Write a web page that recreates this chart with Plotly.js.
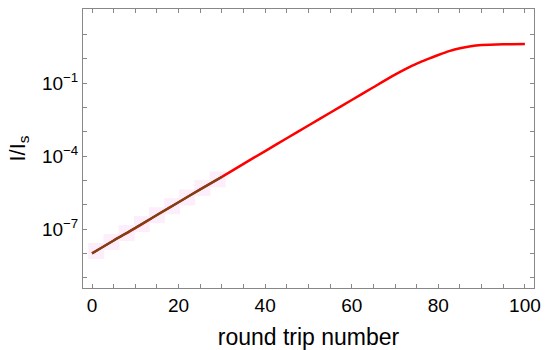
<!DOCTYPE html>
<html>
<head>
<meta charset="utf-8">
<script src="https://cdn.plot.ly/plotly-3.0.1.min.js"></script>
<style>
  html, body { margin: 0; padding: 0; background: #fff; }
  #chart { width: 550px; height: 350px; }
</style>
</head>
<body>
<div id="chart"></div>
<script>
// round trip number vs normalised intensity I/Is
const roundTrip = [0, 5, 10, 15, 20, 25, 30, 35, 40, 45, 50, 55, 60, 65, 70,
                   72.5, 75, 77.5, 80, 82.5, 85, 87.5, 90, 95, 100];
const intensity = [1.0e-8, 3.4e-8, 1.1e-7, 3.8e-7, 1.26e-6, 4.3e-6, 1.4e-5, 4.8e-5, 1.6e-4, 5.4e-4,
                   1.8e-3, 6.0e-3, 2.0e-2, 6.7e-2, 0.22,
                   0.38, 0.63, 0.95, 1.42, 2.05, 2.7, 3.25, 3.6, 3.9, 4.0];

// early part of the curve (brown) and the pale pink blocks under it
const earlyCount = 7;
const pinkX = [1, 4.5, 8, 11.5, 15, 18.5, 22, 25.5, 29];
const pinkY = [1.26e-8, 2.95e-8, 6.9e-8, 1.6e-7, 3.7e-7, 8.7e-7, 2.0e-6, 4.8e-6, 1.1e-5];

const xTickVals = [0, 5, 10, 15, 20, 25, 30, 35, 40, 45, 50, 55, 60, 65, 70, 75, 80, 85, 90, 95, 100];
const xTickText = xTickVals.map(v => (v % 20 === 0 ? String(v) : ''));
const yTickExp = [-9, -8, -7, -6, -5, -4, -3, -2, -1, 0, 1, 2];
const yLabelled = [-7, -4, -1];

const yTickVals = yTickExp.map(e => Math.pow(10, e));
const yTickText = yTickExp.map(e => (yLabelled.includes(e) ? '10<sup>\u2212' + (-e) + '</sup>' : ''));

const traces = [
    {
        x: pinkX,
        y: pinkY,
        type: 'scatter',
        mode: 'markers',
        marker: { symbol: 'square', size: 16, color: '#fdeefb', line: { width: 0 } },
        hoverinfo: 'skip',
    },
    {
        x: roundTrip,
        y: intensity,
        type: 'scatter',
        mode: 'lines',
        line: { color: '#ff0000', width: 2.5, shape: 'spline', smoothing: 0.8 },
    },
    {
        x: roundTrip.slice(0, earlyCount),
        y: intensity.slice(0, earlyCount),
        type: 'scatter',
        mode: 'lines',
        line: { color: '#6b4a16', width: 2 },
    },
];

const fontFamily = 'Liberation Sans, Arial, sans-serif';
const tickFont = { family: fontFamily, size: 19, color: '#000' };

const layout = {
    width: 550,
    height: 350,
    margin: { l: 83, r: 16, t: 9, b: 62 },
    paper_bgcolor: '#fff',
    plot_bgcolor: '#fff',
    showlegend: false,
    font: tickFont,
    xaxis: {
        range: [-2.08, 102.1],
        tickmode: 'array',
        tickvals: xTickVals,
        ticktext: xTickText,
        ticks: 'inside',
        ticklen: 4,
        tickcolor: '#888',
        showgrid: false,
        zeroline: false,
        showline: true,
        linecolor: '#888',
        linewidth: 1,
        mirror: 'ticks',
        tickfont: tickFont,
        title: { text: 'round trip number', font: { family: fontFamily, size: 23, color: '#000' }, standoff: 16 },
    },
    yaxis: {
        type: 'log',
        range: [-9.42, 2.04],
        tickmode: 'array',
        tickvals: yTickVals,
        ticktext: yTickText,
        ticks: 'inside',
        ticklen: 4,
        tickcolor: '#888',
        showgrid: false,
        zeroline: false,
        showline: true,
        linecolor: '#888',
        linewidth: 1,
        mirror: 'ticks',
        tickfont: tickFont,
        title: { text: 'I/I<sub>s</sub>', font: { family: fontFamily, size: 22, color: '#000' }, standoff: 10 },
    },
};

Plotly.newPlot('chart', traces, layout, { displayModeBar: false, staticPlot: true });
</script>
</body>
</html>
